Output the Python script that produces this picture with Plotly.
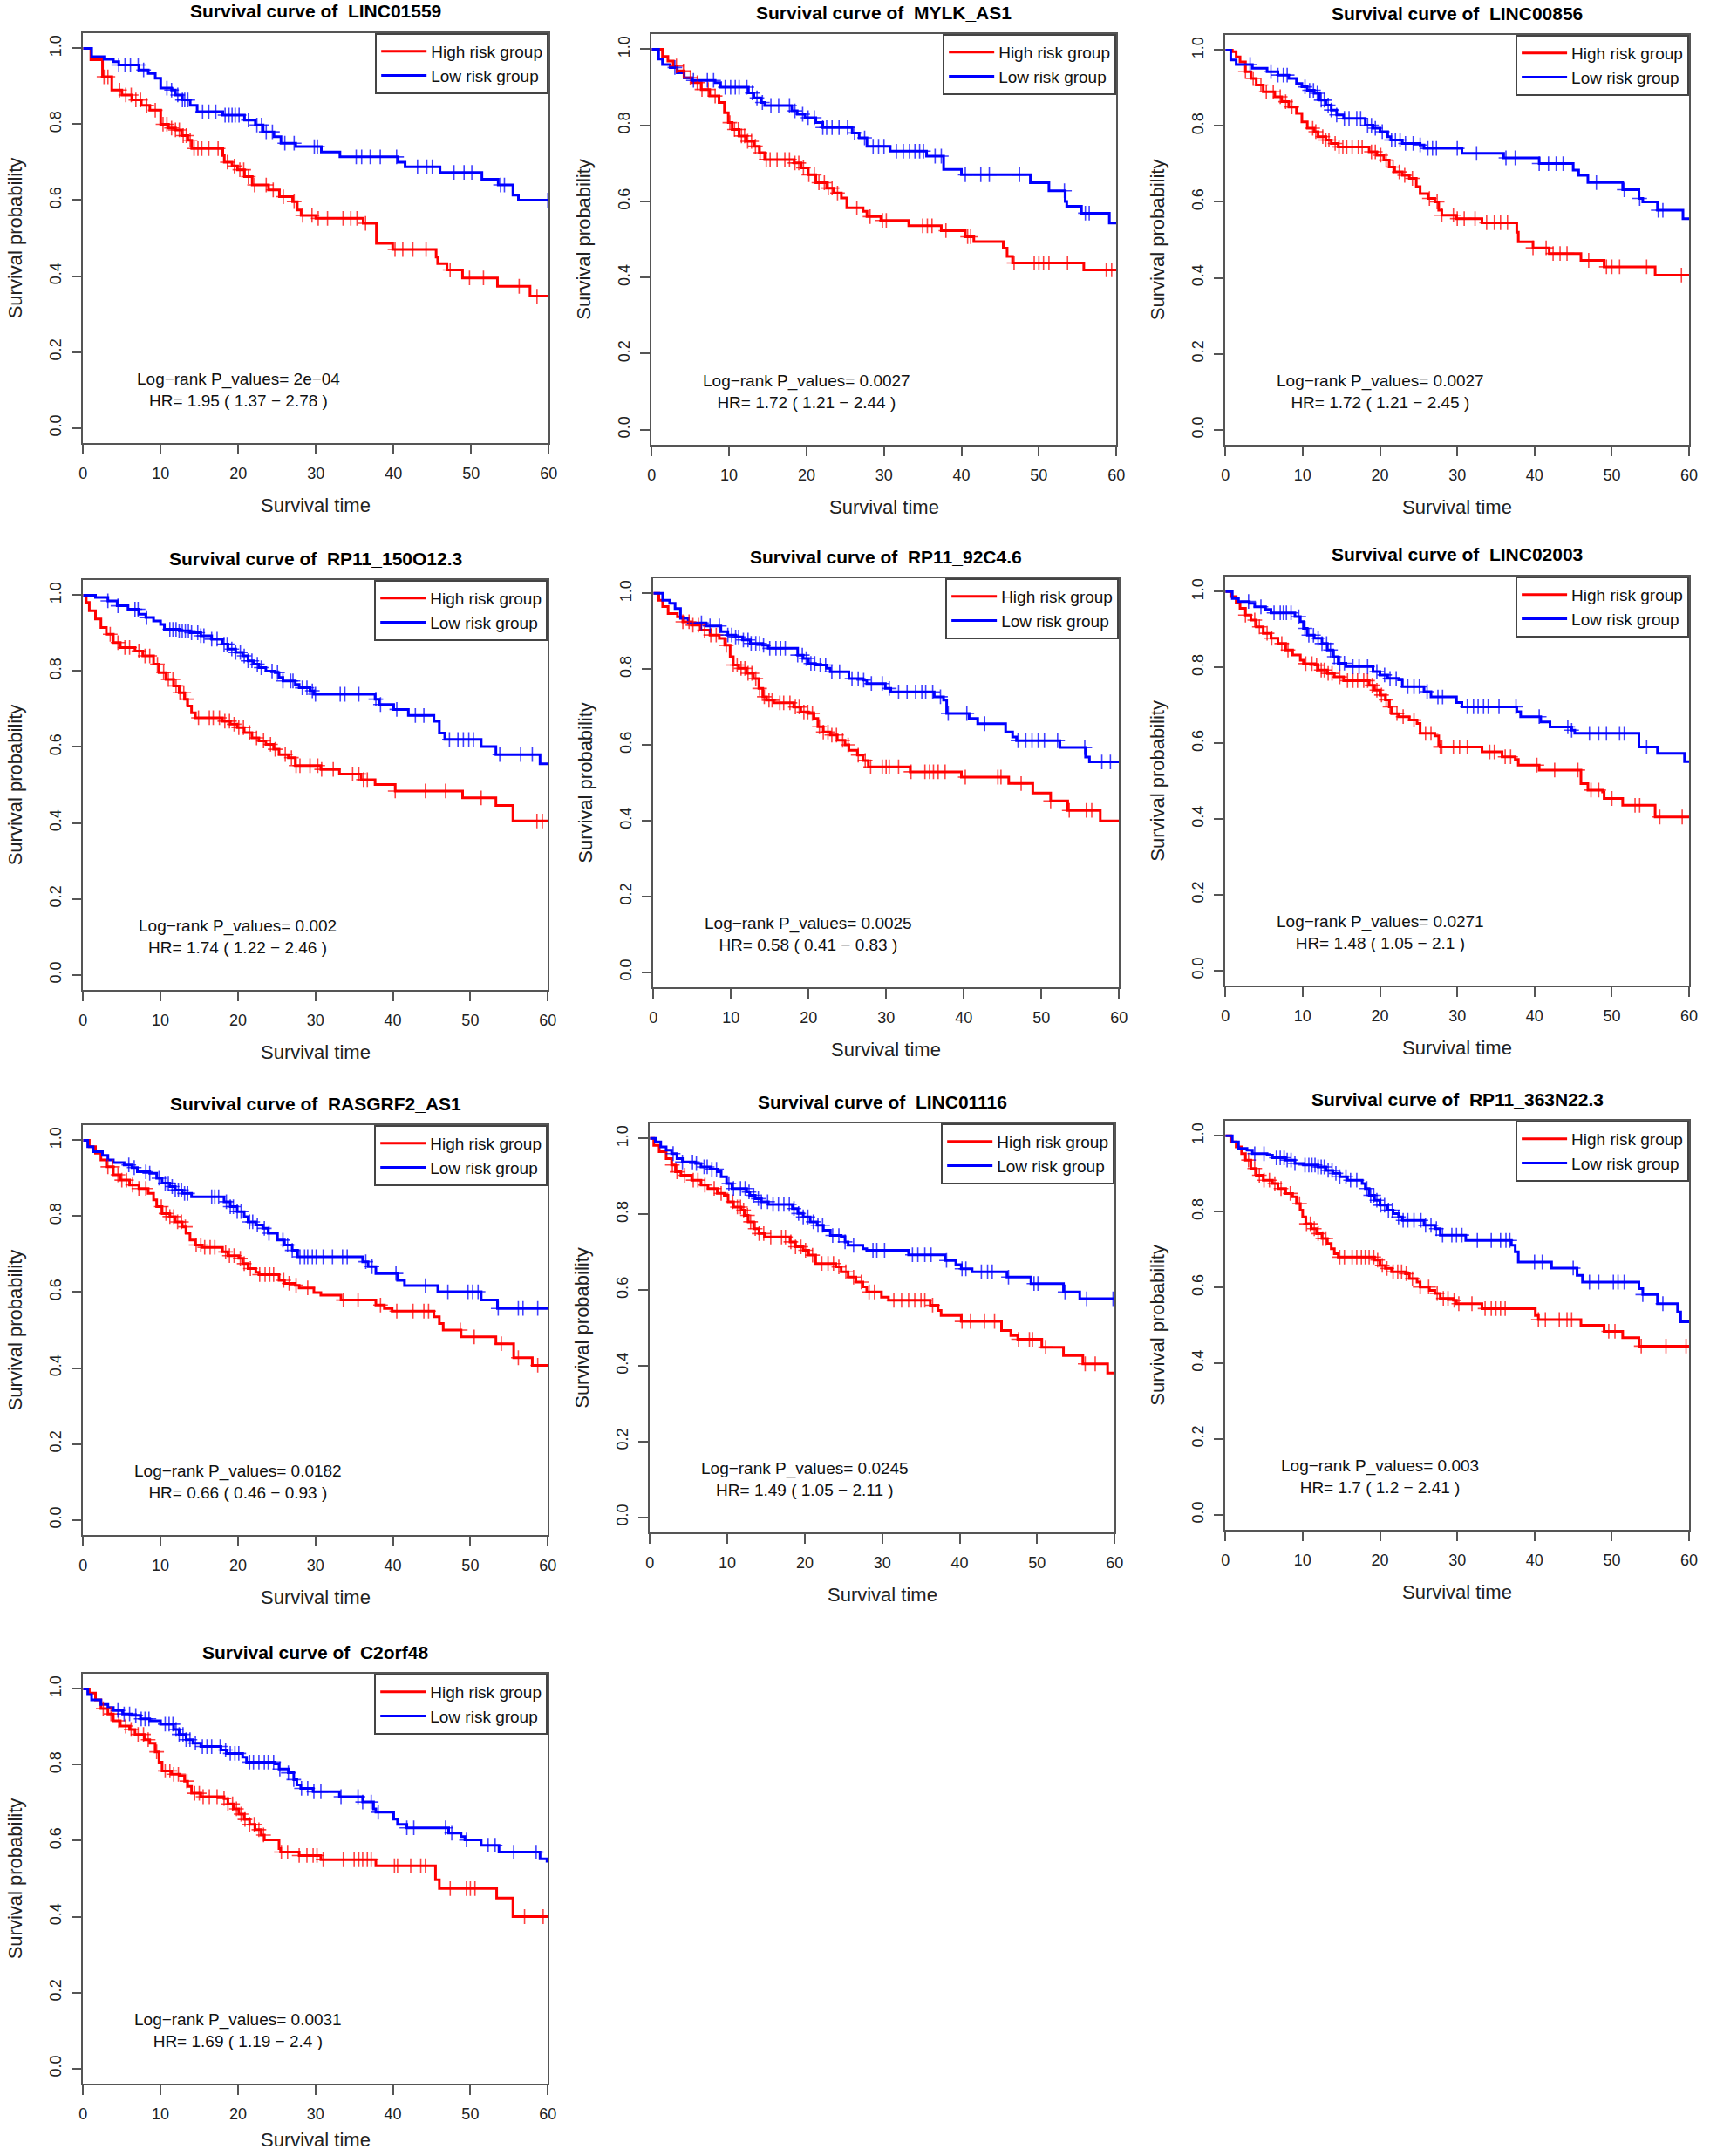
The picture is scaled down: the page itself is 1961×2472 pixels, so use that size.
import bisect
import plotly.graph_objects as go

W, H = 1961, 2472

genes = ["LINC01559", "MYLK_AS1", "LINC00856", "RP11_150O12.3", "RP11_92C4.6",
         "LINC02003", "RASGRF2_AS1", "LINC01116", "RP11_363N22.3", "C2orf48"]
p_values = ["2e\u221204", "0.0027", "0.0027", "0.002", "0.0025",
            "0.0271", "0.0182", "0.0245", "0.003", "0.0031"]
hr = ["1.95", "1.72", "1.72", "1.74", "0.58", "1.48", "0.66", "1.49", "1.7", "1.69"]
hr_lo = ["1.37", "1.21", "1.21", "1.22", "0.41", "1.05", "0.46", "1.05", "1.2", "1.19"]
hr_hi = ["2.78", "2.44", "2.45", "2.46", "0.83", "2.1", "0.93", "2.11", "2.41", "2.4"]

x_ticks = [0, 10, 20, 30, 40, 50, 60]
y_ticks = [0.0, 0.2, 0.4, 0.6, 0.8, 1.0]
y_ticktext = ["0.0", "0.2", "0.4", "0.6", "0.8", "1.0"]

# ---- panel 1 : LINC01559
p1_high_t = [0, 1.0, 2.5, 3.7, 5.0, 6.3, 7.5, 8.6, 10.0, 11.0, 11.9, 12.7, 13.5, 14.0, 18.0, 18.2, 19.2, 19.9, 20.8, 21.8,
             23.9, 25.3, 27.0, 27.6, 28.1, 30.0, 36.1, 37.8, 39.9, 45.5, 45.7, 46.9, 48.9, 53.4, 57.6]
p1_high_s = [1.0, 0.97, 0.925, 0.89, 0.877, 0.864, 0.85, 0.837, 0.80, 0.79, 0.785, 0.77, 0.758, 0.736, 0.718, 0.70, 0.69, 0.68, 0.662, 0.64,
             0.627, 0.609, 0.596, 0.574, 0.56, 0.552, 0.539, 0.486, 0.47, 0.45, 0.433, 0.416, 0.395, 0.373, 0.347]
p1_high_c = [2.7, 3.2, 4.7, 5.5, 6.2, 6.8, 7.4, 8.2, 9.3, 10.3, 10.8, 11.4, 11.9, 12.4, 12.9, 13.3, 13.8, 14.3, 14.8, 15.3,
             16.2, 17.4, 18.6, 19.5, 20.2, 20.7, 21.3, 22.1, 23.6, 24.5, 25.8, 27.2, 28.3, 29.5, 30.3, 31.5, 33.5, 34.5,
             35.3, 36.4, 40.2, 41.2, 42.5, 44.2, 47.3, 49.8, 51.6, 56.2, 58.5]
p1_low_t = [0, 1.1, 2.7, 3.9, 4.6, 7.2, 8.4, 9.3, 10.0, 11.4, 11.9, 12.8, 13.8, 14.7, 18.0, 20.8, 22.2, 23.2, 24.6, 25.5,
            27.4, 30.7, 33.1, 40.6, 41.5, 46.0, 51.4, 53.5, 55.4, 56.1]
p1_low_s = [1.0, 0.978, 0.971, 0.965, 0.956, 0.943, 0.934, 0.921, 0.895, 0.89, 0.877, 0.864, 0.85, 0.833, 0.824, 0.811, 0.798, 0.78, 0.767, 0.75,
            0.741, 0.727, 0.714, 0.70, 0.688, 0.673, 0.655, 0.64, 0.613, 0.60]
p1_low_c = [4.6, 5.4, 6.1, 7.1, 7.8, 10.8, 11.4, 12.2, 12.8, 13.1, 13.5, 15.4, 16.2, 17.1, 18.3, 18.8, 19.2, 19.6, 20.1,
            21.3, 22.4, 23.0, 23.6, 24.4, 26.0, 27.2, 29.8, 30.2, 35.2, 35.9, 37.0, 38.3, 40.4, 43.1, 44.3, 45.0, 47.8,
            49.1, 50.1, 53.8, 54.3, 59.9]

# ---- panel 2 : MYLK_AS1
p2_high_t = [0, 1.4, 2.1, 2.8, 3.3, 4.2, 5.2, 6.4, 7.5, 8.7, 9.4, 9.9, 10.4, 11.3, 12.2, 13.2, 13.9, 14.6, 18.4, 19.3,
             20.2, 21.2, 22.6, 23.5, 24.5, 25.2, 27.3, 27.8, 29.6, 33.2, 37.4, 40.5, 41.6, 45.4, 45.9, 46.6, 55.8]
p2_high_s = [1.0, 0.981, 0.969, 0.956, 0.943, 0.925, 0.912, 0.894, 0.877, 0.86, 0.833, 0.807, 0.789, 0.772, 0.758, 0.745, 0.728, 0.71, 0.701, 0.688,
             0.67, 0.649, 0.635, 0.622, 0.609, 0.583, 0.574, 0.56, 0.55, 0.536, 0.523, 0.507, 0.494, 0.477, 0.455, 0.438, 0.42]
p2_high_c = [3.2, 4.1, 5.0, 5.9, 6.5, 7.3, 8.2, 10.1, 10.7, 11.2, 11.6, 12.0, 12.4, 12.9, 13.4, 14.0, 14.8, 15.3, 16.2,
             17.2, 17.8, 18.5, 19.0, 19.6, 20.3, 21.0, 21.6, 22.3, 22.8, 23.3, 24.0, 26.5, 28.2, 29.8, 30.3, 35.0, 35.6,
             36.2, 38.0, 40.8, 41.2, 46.8, 49.4, 50.0, 50.6, 51.3, 53.7, 58.7, 59.4]
p2_low_t = [0, 0.9, 1.4, 2.4, 3.3, 4.2, 5.2, 8.2, 8.9, 12.5, 13.2, 14.1, 14.6, 18.1, 18.8, 19.8, 21.2, 22.1, 25.9, 26.8,
            27.8, 30.8, 35.5, 37.7, 40.0, 48.9, 51.3, 53.4, 53.6, 55.5, 59.1]
p2_low_s = [1.0, 0.974, 0.96, 0.952, 0.938, 0.925, 0.918, 0.912, 0.90, 0.885, 0.872, 0.86, 0.852, 0.838, 0.829, 0.82, 0.807, 0.794, 0.78, 0.767,
            0.745, 0.732, 0.719, 0.684, 0.67, 0.649, 0.628, 0.60, 0.587, 0.569, 0.543]
p2_low_c = [3.0, 5.4, 7.2, 8.0, 9.5, 10.2, 10.8, 11.3, 12.3, 13.0, 13.6, 14.3, 15.4, 16.4, 17.8, 18.5, 19.5, 20.2, 21.0,
            22.1, 22.6, 23.3, 24.2, 25.3, 26.2, 27.5, 28.6, 29.3, 30.0, 31.6, 32.5, 33.3, 34.0, 34.6, 35.1, 36.6, 37.4,
            40.5, 42.5, 43.6, 47.5, 53.3, 56.0, 56.5]

# ---- panel 3 : LINC00856
p3_high_t = [0, 0.9, 1.4, 1.9, 2.6, 3.3, 4.0, 4.9, 6.4, 7.3, 8.2, 9.2, 9.9, 10.6, 11.5, 12.0, 13.0, 13.7, 14.6, 18.6,
             19.6, 20.5, 21.2, 21.9, 22.9, 23.8, 24.7, 25.2, 26.2, 27.1, 27.6, 28.0, 29.9, 33.2, 37.7, 37.9, 39.8, 41.9,
             46.0, 49.0, 55.6]
p3_high_s = [1.0, 0.996, 0.982, 0.969, 0.943, 0.925, 0.908, 0.89, 0.877, 0.864, 0.85, 0.833, 0.811, 0.794, 0.785, 0.772, 0.763, 0.754, 0.745, 0.732,
             0.723, 0.71, 0.692, 0.679, 0.67, 0.662, 0.64, 0.622, 0.609, 0.60, 0.578, 0.565, 0.556, 0.545, 0.52, 0.495, 0.479, 0.464,
             0.446, 0.429, 0.407]
p3_high_c = [2.6, 3.6, 4.6, 5.3, 6.2, 7.1, 7.8, 8.6, 11.3, 11.7, 12.6, 13.0, 13.4, 14.2, 14.7, 15.2, 15.7, 16.4, 17.2,
             17.7, 18.9, 19.4, 20.1, 20.8, 21.7, 22.5, 23.2, 24.2, 26.4, 27.4, 28.0, 29.5, 30.0, 30.9, 32.3, 33.8, 34.8,
             35.6, 36.5, 39.8, 41.5, 42.4, 43.3, 44.2, 47.0, 49.3, 50.0, 51.0, 54.5, 59.0]
p3_low_t = [0, 0.7, 1.4, 3.5, 5.4, 6.8, 8.2, 9.2, 9.9, 10.6, 11.5, 12.2, 13.0, 13.7, 14.4, 15.3, 18.1, 19.1, 20.0, 21.0,
            21.4, 22.9, 25.2, 25.7, 30.6, 36.0, 40.6, 45.0, 45.7, 46.9, 51.4, 53.5, 54.0, 55.9, 59.2]
p3_low_s = [1.0, 0.974, 0.962, 0.952, 0.943, 0.934, 0.925, 0.912, 0.903, 0.894, 0.886, 0.868, 0.855, 0.842, 0.829, 0.82, 0.802, 0.794, 0.785, 0.772,
            0.763, 0.754, 0.75, 0.741, 0.728, 0.716, 0.701, 0.684, 0.67, 0.651, 0.632, 0.609, 0.60, 0.578, 0.556]
p3_low_c = [3.2, 5.9, 6.8, 7.5, 8.0, 10.3, 10.9, 11.4, 11.9, 12.4, 12.8, 13.3, 13.7, 14.4, 15.4, 16.0, 17.0, 17.5, 18.4,
            18.9, 19.4, 20.3, 21.5, 22.0, 22.6, 23.3, 24.3, 25.2, 26.2, 26.8, 27.3, 30.0, 32.5, 36.3, 37.5, 40.6, 41.8,
            42.8, 43.7, 48.0, 51.6, 53.6, 56.0, 56.6]

# ---- panel 4 : RP11_150O12.3
p4_high_t = [0, 0.4, 0.8, 1.6, 2.3, 3.0, 3.9, 4.8, 6.7, 7.7, 9.1, 9.8, 10.7, 11.7, 12.4, 13.1, 13.5, 14.0, 14.5, 18.0,
             19.0, 19.9, 20.8, 21.8, 22.7, 23.6, 24.6, 25.3, 26.5, 27.4, 30.7, 33.1, 35.9, 37.7, 40.3, 49.0, 53.3, 55.5]
p4_high_s = [1.0, 0.981, 0.959, 0.937, 0.915, 0.897, 0.875, 0.862, 0.853, 0.84, 0.818, 0.796, 0.778, 0.761, 0.743, 0.726, 0.708, 0.69, 0.677, 0.668,
             0.66, 0.651, 0.638, 0.624, 0.616, 0.607, 0.594, 0.58, 0.572, 0.551, 0.541, 0.529, 0.514, 0.501, 0.484, 0.466, 0.446, 0.405]
p4_high_c = [3.5, 4.5, 5.4, 6.0, 7.2, 8.0, 8.6, 9.6, 10.4, 11.0, 11.6, 12.0, 12.5, 13.0, 13.4, 14.9, 16.3, 16.8, 17.6,
             18.3, 18.9, 19.5, 20.1, 20.7, 21.5, 22.4, 23.3, 24.2, 24.8, 26.1, 26.9, 27.5, 28.0, 29.3, 30.3, 30.8, 32.3,
             34.8, 35.6, 36.2, 36.7, 40.3, 44.2, 46.8, 51.4, 58.6, 59.3]
p4_low_t = [0, 1.6, 3.2, 4.4, 5.8, 7.2, 8.1, 9.1, 10.0, 10.5, 12.4, 13.8, 15.2, 16.6, 18.0, 18.7, 19.7, 20.6, 21.3, 22.0,
            22.7, 23.6, 24.8, 25.3, 25.8, 27.4, 27.9, 29.3, 29.8, 37.7, 38.2, 40.1, 42.0, 45.3, 46.0, 46.7, 51.4, 53.3, 59.0]
p4_low_s = [1.0, 0.994, 0.985, 0.972, 0.963, 0.95, 0.941, 0.932, 0.923, 0.91, 0.906, 0.901, 0.893, 0.884, 0.871, 0.858, 0.849, 0.84, 0.827, 0.818,
            0.809, 0.80, 0.796, 0.783, 0.774, 0.765, 0.756, 0.748, 0.739, 0.726, 0.712, 0.699, 0.683, 0.668, 0.637, 0.62, 0.601, 0.58, 0.556]
p4_low_c = [3.2, 4.5, 6.7, 7.1, 8.2, 11.2, 11.6, 12.0, 12.4, 12.8, 13.2, 13.6, 14.0, 14.8, 15.2, 15.6, 16.6, 17.3, 18.2,
            18.6, 19.2, 19.7, 20.3, 20.8, 21.3, 21.8, 22.5, 23.0, 24.4, 25.1, 25.8, 26.8, 27.1, 28.3, 28.9, 29.6, 30.0,
            33.2, 33.8, 35.6, 37.8, 38.4, 40.5, 42.9, 44.0, 47.3, 48.4, 49.1, 49.8, 50.4, 53.8, 56.5, 58.0]

# ---- panel 5 : RP11_92C4.6
p5_high_t = [0, 0.7, 1.2, 1.9, 3.1, 3.8, 4.9, 6.1, 7.3, 8.5, 9.2, 9.9, 10.3, 11.0, 12.0, 12.9, 13.6, 14.1, 14.6, 15.5,
             18.1, 19.0, 20.0, 20.7, 21.2, 21.9, 22.8, 23.7, 24.7, 25.2, 26.3, 27.0, 27.7, 33.1, 39.7, 45.8, 48.9, 51.2,
             53.4, 57.6]
p5_high_s = [1.0, 0.982, 0.965, 0.947, 0.938, 0.925, 0.916, 0.903, 0.89, 0.881, 0.863, 0.833, 0.811, 0.802, 0.789, 0.775, 0.749, 0.727, 0.718, 0.711,
             0.70, 0.687, 0.683, 0.67, 0.648, 0.634, 0.626, 0.612, 0.60, 0.586, 0.573, 0.559, 0.542, 0.529, 0.515, 0.498, 0.473, 0.452,
             0.427, 0.399]
p5_high_c = [3.8, 4.6, 5.1, 5.8, 6.6, 7.4, 8.1, 9.4, 10.3, 10.8, 11.3, 11.8, 12.2, 12.7, 13.2, 13.7, 14.3, 14.9, 15.3,
             16.3, 16.8, 17.6, 18.3, 18.8, 19.4, 19.9, 20.5, 21.4, 21.9, 22.5, 23.0, 23.6, 24.4, 25.1, 26.4, 27.3, 28.0,
             29.5, 30.0, 30.4, 31.6, 33.2, 35.0, 35.6, 36.1, 36.7, 37.6, 40.2, 44.4, 44.8, 47.4, 51.2, 53.6, 55.8, 56.5]
p5_low_t = [0, 1.2, 2.1, 2.8, 3.5, 4.5, 6.8, 8.7, 9.6, 10.6, 11.5, 12.5, 14.1, 14.8, 18.6, 19.3, 20.0, 20.9, 22.3, 22.8,
            25.2, 27.0, 27.5, 29.9, 30.6, 36.2, 37.4, 37.8, 40.7, 41.8, 45.4, 46.3, 46.8, 52.4, 55.7, 56.2]
p5_low_s = [1.0, 0.982, 0.974, 0.96, 0.934, 0.922, 0.914, 0.899, 0.89, 0.885, 0.877, 0.868, 0.863, 0.855, 0.837, 0.828, 0.815, 0.811, 0.802, 0.793,
            0.775, 0.771, 0.762, 0.749, 0.74, 0.727, 0.718, 0.683, 0.67, 0.656, 0.634, 0.621, 0.611, 0.593, 0.568, 0.555]
p5_low_c = [6.2, 7.3, 8.5, 9.6, 10.1, 10.6, 11.0, 11.6, 12.2, 12.6, 13.2, 13.7, 14.2, 15.0, 15.8, 16.4, 17.0, 18.6, 19.2,
            19.7, 20.3, 20.8, 21.5, 22.2, 23.0, 24.0, 25.6, 26.4, 27.1, 28.1, 29.5, 30.4, 31.6, 32.7, 33.8, 34.6, 35.1,
            36.0, 37.0, 38.0, 40.4, 42.7, 47.0, 48.0, 48.8, 49.6, 50.4, 52.1, 55.6, 57.8, 58.9]

# ---- panel 6 : LINC02003
p6_high_t = [0, 0.7, 1.4, 1.9, 2.6, 3.3, 4.0, 4.9, 5.9, 6.8, 7.8, 8.7, 9.7, 10.1, 11.6, 12.0, 13.2, 14.1, 15.3, 18.6,
             19.3, 20.0, 20.7, 21.2, 21.5, 22.4, 23.8, 24.8, 25.2, 27.1, 27.6, 27.8, 33.2, 35.8, 37.5, 37.9, 40.6, 46.0,
             46.9, 48.8, 49.0, 51.4, 55.6]
p6_high_s = [1.0, 0.987, 0.971, 0.956, 0.938, 0.925, 0.907, 0.89, 0.877, 0.863, 0.846, 0.833, 0.819, 0.81, 0.806, 0.793, 0.784, 0.775, 0.765, 0.753,
             0.74, 0.727, 0.714, 0.696, 0.678, 0.67, 0.661, 0.652, 0.626, 0.619, 0.595, 0.59, 0.577, 0.564, 0.557, 0.542, 0.529, 0.493,
             0.476, 0.471, 0.454, 0.436, 0.405]
p6_high_c = [2.6, 3.8, 4.4, 5.4, 6.0, 7.3, 8.1, 10.4, 11.2, 11.8, 12.4, 12.8, 13.3, 13.8, 14.8, 15.8, 16.5, 17.1, 17.9,
             18.4, 19.0, 19.6, 20.2, 20.8, 21.3, 22.2, 23.0, 24.4, 25.9, 26.6, 27.8, 28.0, 29.5, 30.3, 31.3, 34.2, 34.8,
             36.2, 36.9, 40.3, 42.6, 45.6, 47.3, 48.3, 50.0, 53.0, 53.6, 56.2, 59.1]
p6_low_t = [0, 0.9, 1.7, 3.1, 3.8, 5.2, 5.9, 9.0, 9.7, 10.1, 10.6, 11.5, 12.5, 13.2, 13.9, 14.6, 15.6, 19.1, 20.0, 21.0,
            22.4, 22.9, 25.7, 26.6, 29.9, 30.6, 37.7, 38.2, 40.8, 42.0, 44.8, 45.2, 53.5, 55.9, 59.4]
p6_low_s = [1.0, 0.982, 0.974, 0.969, 0.96, 0.953, 0.944, 0.934, 0.921, 0.903, 0.885, 0.877, 0.863, 0.846, 0.828, 0.811, 0.802, 0.789, 0.78, 0.771,
            0.767, 0.749, 0.736, 0.722, 0.707, 0.696, 0.683, 0.67, 0.656, 0.643, 0.634, 0.626, 0.59, 0.573, 0.551]
p6_low_c = [3.0, 4.6, 6.3, 7.1, 7.5, 7.9, 8.5, 9.5, 10.3, 10.8, 11.4, 12.0, 12.5, 13.1, 13.6, 14.1, 14.8, 15.4, 16.5,
            17.3, 18.4, 19.6, 20.6, 21.3, 22.1, 23.6, 24.4, 25.1, 26.1, 27.5, 28.1, 31.3, 32.1, 32.7, 33.4, 34.0, 35.4,
            37.6, 40.6, 44.3, 44.8, 47.1, 48.3, 49.3, 51.0, 51.6, 54.5]

# ---- panel 7 : RASGRF2_AS1
p7_high_t = [0, 0.8, 1.6, 2.3, 3.0, 3.9, 4.8, 6.0, 7.2, 8.4, 9.1, 9.5, 10.2, 11.2, 11.9, 12.8, 13.3, 13.8, 14.5, 15.4,
             18.0, 18.7, 20.1, 20.6, 21.3, 22.3, 22.7, 25.3, 26.0, 27.4, 27.9, 29.8, 30.7, 33.3, 37.8, 38.9, 39.9, 45.3,
             46.0, 46.5, 48.8, 53.3, 55.6, 58.0]
p7_high_s = [1.0, 0.983, 0.966, 0.948, 0.93, 0.909, 0.895, 0.882, 0.873, 0.86, 0.843, 0.825, 0.807, 0.799, 0.785, 0.772, 0.755, 0.737, 0.724, 0.718,
             0.706, 0.696, 0.689, 0.675, 0.662, 0.652, 0.646, 0.631, 0.623, 0.618, 0.611, 0.599, 0.592, 0.579, 0.566, 0.557, 0.55, 0.535,
             0.517, 0.50, 0.482, 0.464, 0.427, 0.407]
p7_high_c = [3.2, 3.8, 4.5, 5.0, 5.6, 6.4, 7.2, 8.1, 10.1, 10.7, 11.2, 11.7, 12.2, 12.7, 13.2, 14.6, 15.2, 15.7, 16.4,
             17.0, 18.4, 18.9, 19.5, 20.3, 20.8, 21.6, 22.8, 23.5, 24.1, 24.6, 25.9, 26.6, 27.5, 29.0, 33.6, 35.5, 38.4,
             40.5, 42.6, 44.0, 44.6, 48.7, 50.5, 54.0, 56.2, 58.7]
p7_low_t = [0, 0.6, 1.3, 2.5, 3.2, 3.9, 5.3, 6.3, 7.0, 8.6, 9.5, 10.2, 11.2, 11.9, 12.8, 14.0, 18.2, 19.0, 19.9, 20.8,
            21.3, 22.3, 23.2, 23.9, 25.1, 26.0, 27.0, 27.7, 36.1, 36.8, 37.8, 40.6, 41.5, 45.8, 51.4, 53.5]
p7_low_s = [1.0, 0.983, 0.97, 0.96, 0.948, 0.941, 0.935, 0.928, 0.917, 0.913, 0.90, 0.887, 0.878, 0.869, 0.86, 0.851, 0.838, 0.825, 0.812, 0.799,
            0.785, 0.777, 0.768, 0.755, 0.737, 0.724, 0.71, 0.693, 0.68, 0.667, 0.649, 0.631, 0.617, 0.601, 0.579, 0.557]
p7_low_c = [5.9, 6.6, 8.1, 8.6, 9.8, 10.6, 11.0, 11.5, 11.9, 12.3, 12.7, 13.1, 13.5, 16.6, 17.0, 17.5, 18.5, 19.0, 19.4,
            19.9, 20.4, 21.5, 21.9, 22.5, 23.4, 24.0, 25.8, 26.4, 27.0, 28.0, 28.6, 29.0, 29.6, 30.1, 31.0, 32.2, 33.5,
            34.1, 36.5, 37.3, 40.4, 44.2, 47.1, 49.7, 50.3, 51.0, 53.6, 56.2, 56.8, 58.7]

# ---- panel 8 : LINC01116
p8_high_t = [0, 0.5, 1.2, 2.1, 2.8, 3.3, 4.0, 5.4, 6.6, 7.5, 8.7, 9.6, 10.1, 10.8, 11.8, 12.2, 12.7, 13.4, 14.1, 14.8,
             18.1, 18.8, 19.8, 20.5, 21.4, 24.0, 24.7, 25.6, 26.6, 27.5, 28.0, 29.9, 30.8, 36.2, 37.2, 37.6, 40.2, 45.4,
             46.6, 47.5, 50.6, 53.4, 55.9, 59.1]
p8_high_s = [1.0, 0.982, 0.965, 0.947, 0.93, 0.912, 0.903, 0.89, 0.877, 0.868, 0.855, 0.85, 0.833, 0.819, 0.811, 0.797, 0.78, 0.762, 0.749, 0.74,
             0.727, 0.714, 0.705, 0.692, 0.67, 0.661, 0.648, 0.634, 0.621, 0.608, 0.595, 0.581, 0.573, 0.56, 0.546, 0.533, 0.517, 0.493,
             0.48, 0.47, 0.449, 0.427, 0.405, 0.381]
p8_high_c = [2.9, 3.5, 4.5, 5.6, 6.2, 7.1, 8.3, 9.2, 10.7, 11.3, 11.7, 12.1, 12.6, 13.0, 13.6, 14.1, 14.7, 15.6, 17.0,
             17.5, 18.2, 18.8, 19.5, 20.1, 21.0, 22.2, 23.0, 23.7, 24.4, 25.3, 26.3, 27.3, 28.3, 29.0, 31.5, 32.5, 33.4,
             34.2, 35.0, 35.5, 36.5, 40.3, 41.4, 43.2, 44.5, 47.6, 49.0, 49.4, 51.1, 56.2, 57.5]
p8_low_t = [0, 0.7, 1.4, 2.1, 2.8, 3.5, 4.2, 5.9, 6.6, 7.8, 8.7, 9.2, 9.9, 10.6, 12.5, 12.9, 13.6, 14.4, 15.3, 18.4,
            19.1, 19.8, 20.7, 21.6, 22.4, 23.3, 24.7, 25.2, 25.6, 27.5, 28.0, 33.4, 38.1, 39.5, 40.2, 41.6, 46.1, 49.2,
            53.4, 55.5]
p8_low_s = [1.0, 0.991, 0.978, 0.969, 0.96, 0.947, 0.938, 0.934, 0.925, 0.919, 0.912, 0.899, 0.881, 0.868, 0.859, 0.85, 0.841, 0.833, 0.826, 0.815,
            0.802, 0.793, 0.78, 0.771, 0.758, 0.744, 0.74, 0.727, 0.718, 0.709, 0.705, 0.693, 0.678, 0.667, 0.656, 0.648, 0.634, 0.617,
            0.595, 0.577]
p8_low_c = [3.0, 4.2, 5.5, 6.0, 7.0, 7.4, 8.0, 8.6, 10.2, 10.8, 11.7, 12.3, 12.8, 13.4, 14.0, 14.4, 15.2, 15.9, 16.6,
            17.3, 18.0, 18.6, 19.2, 19.8, 20.4, 21.1, 21.7, 22.3, 23.6, 24.4, 25.2, 26.3, 28.8, 29.3, 30.3, 33.9, 34.6,
            35.5, 36.3, 38.3, 40.3, 40.8, 42.8, 43.6, 44.2, 46.3, 49.6, 50.1, 53.6, 56.4, 59.8]

# ---- panel 9 : RP11_363N22.3
p9_high_t = [0, 0.7, 1.4, 2.1, 2.6, 3.3, 4.0, 4.9, 6.1, 6.8, 7.8, 8.7, 9.2, 9.7, 10.0, 10.4, 11.1, 11.8, 12.5, 13.2,
             13.7, 14.1, 14.6, 19.3, 20.0, 20.7, 21.5, 23.3, 23.8, 24.8, 25.2, 26.4, 27.1, 27.8, 29.5, 29.9, 33.2, 40.1,
             40.5, 46.0, 49.0, 51.4, 53.5]
p9_high_s = [1.0, 0.984, 0.971, 0.953, 0.936, 0.914, 0.896, 0.883, 0.874, 0.861, 0.848, 0.839, 0.821, 0.804, 0.786, 0.768, 0.755, 0.742, 0.729, 0.716,
             0.702, 0.689, 0.68, 0.672, 0.658, 0.65, 0.641, 0.636, 0.623, 0.614, 0.601, 0.592, 0.584, 0.571, 0.566, 0.557, 0.544, 0.526,
             0.515, 0.50, 0.484, 0.467, 0.445]
p9_high_c = [3.0, 3.8, 4.4, 5.0, 5.7, 6.4, 7.2, 8.4, 9.6, 10.5, 11.0, 11.5, 12.0, 12.6, 13.0, 14.8, 15.4, 16.4, 17.0,
             17.6, 18.1, 18.6, 19.2, 19.7, 20.3, 20.9, 21.7, 22.3, 22.8, 23.4, 24.2, 25.2, 26.3, 27.4, 28.2, 28.8, 29.6,
             30.2, 31.9, 33.6, 34.4, 35.0, 35.6, 36.2, 40.5, 41.4, 43.2, 44.2, 44.8, 49.6, 50.4, 53.8, 57.0, 59.6]
p9_low_t = [0, 0.9, 1.7, 2.8, 3.5, 5.4, 6.1, 7.8, 9.0, 10.1, 12.0, 13.0, 13.9, 14.8, 15.8, 17.7, 18.1, 18.6, 19.3, 20.0,
            21.0, 21.7, 22.4, 22.9, 25.7, 27.1, 27.8, 31.1, 37.0, 37.5, 37.9, 42.2, 45.5, 46.2, 53.5, 54.0, 55.9, 58.5,
            58.9]
p9_low_s = [1.0, 0.984, 0.967, 0.962, 0.953, 0.949, 0.942, 0.936, 0.927, 0.923, 0.918, 0.909, 0.901, 0.892, 0.883, 0.874, 0.861, 0.843, 0.83, 0.817,
            0.804, 0.795, 0.786, 0.777, 0.764, 0.755, 0.738, 0.724, 0.711, 0.694, 0.667, 0.651, 0.632, 0.614, 0.597, 0.581, 0.557, 0.535,
            0.509]
p9_low_c = [3.8, 5.0, 6.6, 7.1, 7.6, 8.0, 8.5, 9.0, 10.3, 10.8, 11.2, 11.6, 12.0, 12.4, 12.8, 13.3, 13.8, 14.3, 14.8,
            15.6, 16.2, 17.0, 18.3, 18.8, 19.2, 19.6, 20.1, 20.6, 21.1, 21.6, 22.4, 23.0, 23.6, 24.4, 25.3, 25.9, 26.6,
            27.3, 28.1, 29.3, 29.9, 30.6, 32.6, 34.4, 35.6, 36.3, 36.8, 40.0, 41.0, 45.0, 47.1, 48.3, 50.2, 50.8, 51.6,
            54.0, 56.6]

# ---- panel 10 : C2orf48
p10_high_t = [0, 0.8, 1.6, 2.3, 3.2, 3.9, 4.8, 6.0, 6.7, 7.9, 8.6, 9.3, 9.8, 10.2, 11.4, 12.4, 13.1, 13.5, 14.0, 15.2,
              18.2, 18.7, 19.4, 20.1, 20.8, 21.5, 22.2, 23.0, 23.4, 25.3, 25.5, 27.9, 30.7, 37.8, 45.5, 46.0, 53.4, 55.5]
p10_high_s = [1.0, 0.989, 0.971, 0.948, 0.934, 0.916, 0.902, 0.893, 0.88, 0.866, 0.857, 0.834, 0.807, 0.784, 0.775, 0.77, 0.757, 0.743, 0.725, 0.716,
              0.711, 0.697, 0.684, 0.67, 0.656, 0.643, 0.629, 0.615, 0.602, 0.579, 0.57, 0.561, 0.55, 0.534, 0.497, 0.474, 0.449, 0.40]
p10_high_c = [2.6, 3.6, 4.6, 5.5, 6.2, 7.1, 7.8, 8.4, 9.5, 10.6, 11.2, 11.7, 12.3, 13.4, 14.4, 15.0, 15.5, 16.3, 17.3,
              18.2, 18.7, 19.3, 19.8, 20.4, 20.9, 21.5, 22.1, 22.7, 23.3, 25.6, 26.4, 27.9, 28.9, 29.7, 30.2, 31.0, 33.6,
              35.0, 35.6, 36.1, 36.7, 37.2, 40.2, 40.6, 42.3, 43.6, 44.2, 47.4, 49.5, 50.0, 50.6, 57.0, 59.4]
p10_low_t = [0, 0.6, 1.1, 2.3, 3.2, 3.9, 5.1, 6.3, 7.4, 8.6, 10.0, 11.7, 12.4, 13.3, 14.2, 15.2, 17.8, 18.5, 20.6, 21.1,
             24.8, 25.3, 26.5, 27.2, 27.6, 28.1, 29.7, 33.1, 36.1, 37.5, 37.8, 40.1, 40.6, 41.8, 47.2, 48.8, 49.3, 51.4,
             53.7, 59.0, 59.9]
p10_low_s = [1.0, 0.985, 0.971, 0.959, 0.951, 0.943, 0.934, 0.93, 0.921, 0.916, 0.907, 0.893, 0.88, 0.866, 0.857, 0.848, 0.839, 0.83, 0.82, 0.807,
             0.802, 0.789, 0.779, 0.761, 0.747, 0.738, 0.729, 0.716, 0.702, 0.684, 0.675, 0.657, 0.643, 0.634, 0.62, 0.611, 0.602, 0.588,
             0.57, 0.552, 0.546]
p10_low_c = [4.5, 5.3, 6.0, 6.8, 7.5, 8.0, 8.5, 10.6, 11.1, 11.6, 12.0, 12.4, 12.9, 13.3, 13.8, 14.5, 15.4, 16.0, 16.6,
             17.7, 18.4, 19.0, 19.6, 20.1, 21.5, 22.0, 22.7, 23.4, 23.9, 24.6, 25.4, 26.5, 27.2, 28.2, 29.0, 29.8, 30.7,
             33.3, 35.5, 36.1, 37.2, 38.1, 41.8, 42.7, 46.8, 47.6, 49.5, 52.3, 53.2, 55.6, 58.5]

curves = [
    (p1_high_t, p1_high_s, p1_high_c, p1_low_t, p1_low_s, p1_low_c),
    (p2_high_t, p2_high_s, p2_high_c, p2_low_t, p2_low_s, p2_low_c),
    (p3_high_t, p3_high_s, p3_high_c, p3_low_t, p3_low_s, p3_low_c),
    (p4_high_t, p4_high_s, p4_high_c, p4_low_t, p4_low_s, p4_low_c),
    (p5_high_t, p5_high_s, p5_high_c, p5_low_t, p5_low_s, p5_low_c),
    (p6_high_t, p6_high_s, p6_high_c, p6_low_t, p6_low_s, p6_low_c),
    (p7_high_t, p7_high_s, p7_high_c, p7_low_t, p7_low_s, p7_low_c),
    (p8_high_t, p8_high_s, p8_high_c, p8_low_t, p8_low_s, p8_low_c),
    (p9_high_t, p9_high_s, p9_high_c, p9_low_t, p9_low_s, p9_low_c),
    (p10_high_t, p10_high_s, p10_high_c, p10_low_t, p10_low_s, p10_low_c),
]

# plot boxes in page pixels: left, right, top, bottom
boxes = [
    (91, 629, 38, 508), (748, 1285, 39, 510), (1411, 1947, 40, 510),
    (91, 628, 665, 1135), (750, 1288, 663, 1132), (1411, 1947, 661, 1130),
    (91, 628, 1290, 1760), (746, 1283, 1288, 1757), (1411, 1947, 1285, 1754),
    (91, 628, 1919, 2389),
]

FONT = "Liberation Sans, Arial, sans-serif"
AX = "#555555"
RED = "#FF0000"
BLUE = "#0000FF"
T_MAX = 60


def at(times, surv, t):
    # survival level of a step curve at time t
    return surv[bisect.bisect_right(times, t) - 1]


fig = go.Figure()
annotations = []
layout = {}

for i, (gene, box, cv) in enumerate(zip(genes, boxes, curves)):
    sfx = "" if i == 0 else str(i + 1)
    xa, ya, leg = "x" + sfx, "y" + sfx, "legend" + sfx
    ht, hs, hc, lt, ls, lc = cv

    for t, s, col, nm in [(ht, hs, RED, "High risk group"), (lt, ls, BLUE, "Low risk group")]:
        fig.add_trace(go.Scatter(x=t + [T_MAX], y=s + [s[-1]], mode="lines", name=nm,
                                 line=dict(color=col, width=3, shape="hv"),
                                 xaxis=xa, yaxis=ya, legend=leg, hoverinfo="skip"))
    for t, s, c, col in [(ht, hs, hc, "rgba(255,0,0,0.75)"), (lt, ls, lc, "rgba(0,0,255,0.75)")]:
        fig.add_trace(go.Scatter(x=c, y=[at(t, s, v) for v in c], mode="markers", showlegend=False,
                                 marker=dict(symbol="cross-thin", size=12, line=dict(width=1.6, color=col)),
                                 xaxis=xa, yaxis=ya, legend=leg, hoverinfo="skip"))

    l, r, top, bot = box
    common = dict(showline=True, linewidth=2, linecolor=AX, mirror=True, ticks="outside", ticklen=11,
                  tickwidth=2, tickcolor=AX, showgrid=False, zeroline=False,
                  tickfont=dict(family=FONT, size=18, color="#222222"))
    layout["xaxis" + sfx] = dict(domain=[l / W, r / W], anchor=ya, range=[0, T_MAX], tickvals=x_ticks,
                                 ticklabelstandoff=6, **common)
    layout["yaxis" + sfx] = dict(domain=[1 - bot / H, 1 - top / H], anchor=xa, range=[-0.04, 1.04],
                                 tickvals=y_ticks, ticktext=y_ticktext, tickangle=-90,
                                 ticklabelstandoff=5, **common)
    layout[leg] = dict(x=r / W, y=1 - top / H, xanchor="right", yanchor="top", bgcolor="white",
                       bordercolor="#444444", borderwidth=2, font=dict(family=FONT, size=19, color="#111111"),
                       tracegroupgap=0, itemwidth=52)

    # the bottom row sits close to the page edge, keep its x title inside
    xt_shift = -64 if bot > H - 100 else -71
    annotations += [
        dict(text="<b>Survival curve of \u00a0" + gene + "</b>", xref=xa + " domain", yref=ya + " domain",
             x=0.5, y=1, yshift=25, yanchor="middle", showarrow=False,
             font=dict(family=FONT, size=21, color="#000000")),
        dict(text="Survival time", xref=xa + " domain", yref=ya + " domain", x=0.5, y=0, yshift=xt_shift,
             yanchor="middle", showarrow=False, font=dict(family=FONT, size=22, color="#222222")),
        dict(text="Survival probability", xref=xa + " domain", yref=ya + " domain", x=0, y=0.5, xshift=-78,
             xanchor="center", yanchor="middle", textangle=-90, showarrow=False,
             font=dict(family=FONT, size=22, color="#222222")),
        dict(text="Log\u2212rank P_values= " + p_values[i] + "<br>HR= " + hr[i] + " ( " + hr_lo[i] + " \u2212 "
             + hr_hi[i] + " )", xref=xa, yref=ya, x=20, y=0.1, showarrow=False, align="center",
             font=dict(family=FONT, size=19, color="#111111")),
    ]

fig.update_layout(width=W, height=H, margin=dict(l=0, r=0, t=0, b=0), paper_bgcolor="white",
                  plot_bgcolor="white", annotations=annotations, font=dict(family=FONT), **layout)

# the page body has a default 8px margin; drop it so the figure sits at the page origin
fig.write_html("out.html", config={"displayModeBar": False},
               post_script="document.body.style.margin='0';document.body.style.padding='0';")
